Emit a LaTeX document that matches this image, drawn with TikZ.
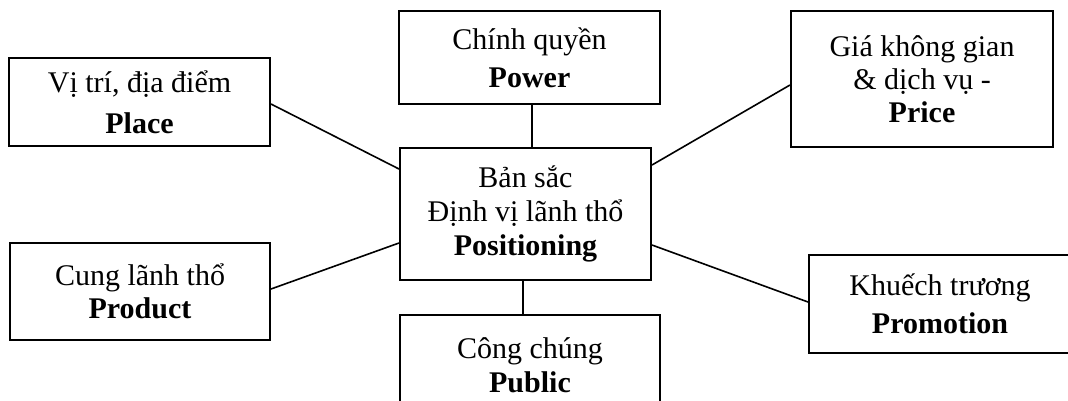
\documentclass[tikz,border=0pt]{standalone}
\usepackage{fontspec}
\setmainfont{Liberation Serif}
\begin{document}
\begin{tikzpicture}[x=1pt,y=-1pt,
  box/.style={draw, line width=2pt, align=center, inner sep=0pt, font=\fontsize{30}{36}\selectfont},
  link/.style={line width=1.6pt}]
\useasboundingbox (0,0) rectangle (1068,400);
\clip (0,0) rectangle (1068,400);
\fill[white] (0,0) rectangle (1068,400);
\node[box, minimum width=261pt, minimum height=88pt, font=\fontsize{30}{41}\selectfont] (place) at (139.5,102) {Vị trí, địa điểm\\\textbf{Place}};
\node[box, minimum width=261pt, minimum height=93pt, font=\fontsize{30}{38}\selectfont] (power) at (529.5,57.5) {Chính quyền\\\textbf{Power}};
\node[box, minimum width=262pt, minimum height=136pt, font=\fontsize{30}{33}\selectfont] (price) at (922,79) {Giá không gian\\\& dịch vụ -\\\textbf{Price}};
\node[box, minimum width=251pt, minimum height=132pt, font=\fontsize{30}{34}\selectfont] (center) at (525.5,214) {Bản sắc\\Định vị lãnh thổ\\\textbf{Positioning}};
\node[box, minimum width=260pt, minimum height=100pt, font=\fontsize{30}{34}\selectfont] (public) at (530,365) {Công chúng\\\textbf{Public}};
\node[box, minimum width=260pt, minimum height=97pt, font=\fontsize{30}{33}\selectfont] (product) at (140,291.5) {Cung lãnh thổ\\\textbf{Product}};
\node[box, minimum width=262pt, minimum height=98pt, font=\fontsize{30}{38}\selectfont] (promotion) at (940,304) {Khuếch trương\\\textbf{Promotion}};
\draw[link] ([yshift=-2pt]place.east) -- ([yshift=45pt]center.west);
\draw[link] ([xshift=6.5pt]center.north) -- ([xshift=6.5pt]center.north |- power.south);
\draw[link] ([yshift=49pt]center.east) -- ([yshift=-6pt]price.west);
\draw[link] ([yshift=2.5pt]product.east) -- ([yshift=-29pt]center.west);
\draw[link] ([yshift=-31pt]center.east) -- ([yshift=2pt]promotion.west);
\draw[link] ([xshift=-2.5pt]center.south) -- ([xshift=-2.5pt]center.south |- public.north);
\end{tikzpicture}
\end{document}
